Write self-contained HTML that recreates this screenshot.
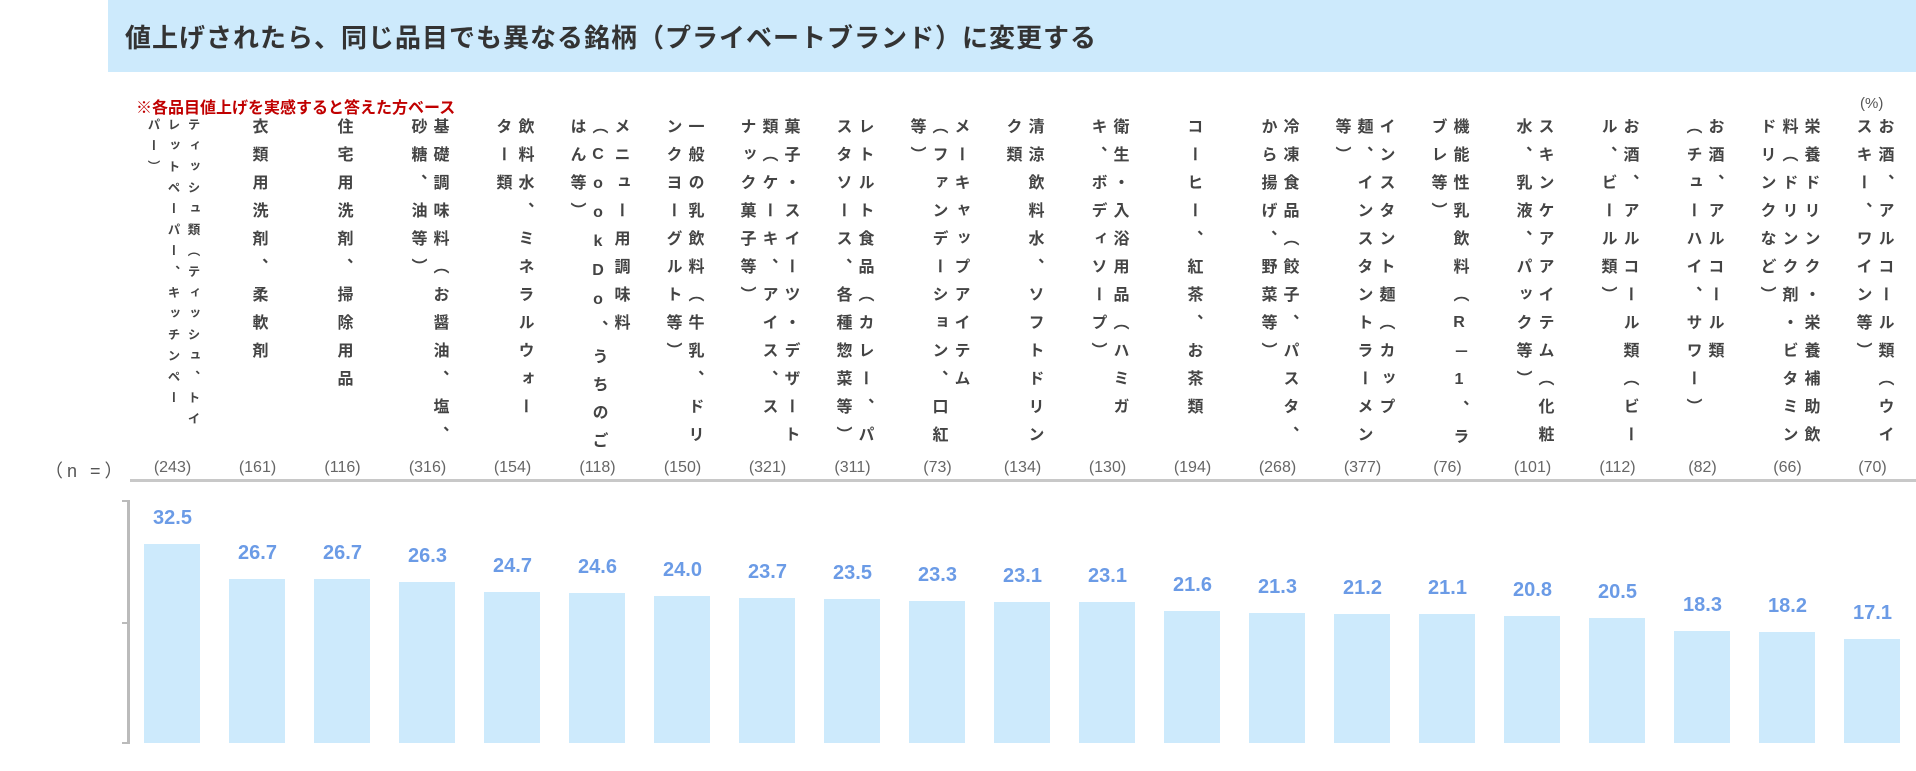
<!DOCTYPE html>
<html><head><meta charset="utf-8"><style>
body{margin:0;width:1916px;height:771px;position:relative;background:#fff;font-family:"Liberation Sans","Noto Sans CJK JP",sans-serif;overflow:hidden}
.hd{position:absolute;left:108px;top:0;width:1808px;height:72px;background:#cdeafc}
.ttl{position:absolute;left:125px;top:18px;font-size:26px;font-weight:bold;color:#333;letter-spacing:1px}
.note{position:absolute;left:136px;top:94px;font-size:16px;font-weight:bold;color:#c00000}
.pct{position:absolute;left:1860px;top:95px;font-size:15px;color:#555}
.lab{position:absolute;top:118px;width:85px;height:345px;display:flex;justify-content:center}
.lab div{writing-mode:vertical-rl;text-orientation:upright;font-size:16px;font-weight:bold;color:#444;letter-spacing:12px;line-height:22px;white-space:nowrap}
.lab div.s{font-size:12.5px;letter-spacing:8.5px;line-height:20px}
.n{position:absolute;top:459px;width:85px;text-align:center;font-size:16px;color:#666}
.b{position:absolute;width:56px;bottom:28px;background:#cdeafc}
.v{position:absolute;width:85px;text-align:center;font-size:20px;font-weight:bold;color:#6b9be6;line-height:20px}
</style></head><body>
<div class="hd"></div>
<div class="ttl">値上げされたら、同じ品目でも異なる銘柄（プライベートブランド）に変更する</div>
<div class="note">※各品目値上げを実感すると答えた方ベース</div>
<div class="pct">(%)</div>

<div class="lab" style="left:130px"><div class="s">ティッシュ類（ティッシュ、トイ<br>レットペーパー、キッチンペー<br>パー）</div></div>
<div class="lab" style="left:215px"><div>衣類用洗剤、柔軟剤</div></div>
<div class="lab" style="left:300px"><div>住宅用洗剤、掃除用品</div></div>
<div class="lab" style="left:385px"><div>基礎調味料（お醤油、塩、<br>砂糖、油等）</div></div>
<div class="lab" style="left:470px"><div>飲料水、ミネラルウォー<br>ター類</div></div>
<div class="lab" style="left:555px"><div>メニュー用調味料<br>（CookDo、うちのご<br>はん等）</div></div>
<div class="lab" style="left:640px"><div>一般の乳飲料（牛乳、ドリ<br>ンクヨーグルト等）</div></div>
<div class="lab" style="left:725px"><div>菓子・スイーツ・デザート<br>類（ケーキ、アイス、ス<br>ナック菓子等）</div></div>
<div class="lab" style="left:810px"><div>レトルト食品（カレー、パ<br>スタソース、各種惣菜等）</div></div>
<div class="lab" style="left:895px"><div>メーキャップアイテム<br>（ファンデーション、口紅<br>等）</div></div>
<div class="lab" style="left:980px"><div>清涼飲料水、ソフトドリン<br>ク類</div></div>
<div class="lab" style="left:1065px"><div>衛生・入浴用品（ハミガ<br>キ、ボディソープ）</div></div>
<div class="lab" style="left:1150px"><div>コーヒー、紅茶、お茶類</div></div>
<div class="lab" style="left:1235px"><div>冷凍食品（餃子、パスタ、<br>から揚げ、野菜等）</div></div>
<div class="lab" style="left:1320px"><div>インスタント麺（カップ<br>麺、インスタントラーメン<br>等）</div></div>
<div class="lab" style="left:1405px"><div>機能性乳飲料（R－1、ラ<br>ブレ等）</div></div>
<div class="lab" style="left:1490px"><div>スキンケアアイテム（化粧<br>水、乳液、パック等）</div></div>
<div class="lab" style="left:1575px"><div>お酒、アルコール類（ビー<br>ル、ビール類）</div></div>
<div class="lab" style="left:1660px"><div>お酒、アルコール類<br>（チューハイ、サワー）</div></div>
<div class="lab" style="left:1745px"><div>栄養ドリンク・栄養補助飲<br>料（ドリンク剤・ビタミン<br>ドリンクなど）</div></div>
<div class="lab" style="left:1830px"><div>お酒、アルコール類（ウイ<br>スキー、ワイン等）</div></div>

<div style="position:absolute;left:45px;top:457px;font-size:18px;color:#555;letter-spacing:4px">（n =）</div>
<div class="n" style="left:130px">(243)</div><div class="n" style="left:215px">(161)</div><div class="n" style="left:300px">(116)</div><div class="n" style="left:385px">(316)</div><div class="n" style="left:470px">(154)</div><div class="n" style="left:555px">(118)</div><div class="n" style="left:640px">(150)</div><div class="n" style="left:725px">(321)</div><div class="n" style="left:810px">(311)</div><div class="n" style="left:895px">(73)</div><div class="n" style="left:980px">(134)</div><div class="n" style="left:1065px">(130)</div><div class="n" style="left:1150px">(194)</div><div class="n" style="left:1235px">(268)</div><div class="n" style="left:1320px">(377)</div><div class="n" style="left:1405px">(76)</div><div class="n" style="left:1490px">(101)</div><div class="n" style="left:1575px">(112)</div><div class="n" style="left:1660px">(82)</div><div class="n" style="left:1745px">(66)</div><div class="n" style="left:1830px">(70)</div>
<div style="position:absolute;left:130px;top:479px;width:1786px;height:3px;background:#c8c8c8"></div>

<div style="position:absolute;left:127px;top:500px;width:3px;height:244px;background:#bbb"></div>
<div style="position:absolute;left:122px;top:500px;width:8px;height:2px;background:#bbb"></div>
<div style="position:absolute;left:122px;top:622px;width:8px;height:2px;background:#bbb"></div>
<div style="position:absolute;left:122px;top:742px;width:8px;height:2px;background:#bbb"></div>

<div class="b" style="left:144px;height:199px"></div><div class="v" style="left:130px;bottom:243px">32.5</div>
<div class="b" style="left:229px;height:164px"></div><div class="v" style="left:215px;bottom:208px">26.7</div>
<div class="b" style="left:314px;height:164px"></div><div class="v" style="left:300px;bottom:208px">26.7</div>
<div class="b" style="left:399px;height:161px"></div><div class="v" style="left:385px;bottom:205px">26.3</div>
<div class="b" style="left:484px;height:151px"></div><div class="v" style="left:470px;bottom:195px">24.7</div>
<div class="b" style="left:569px;height:150px"></div><div class="v" style="left:555px;bottom:194px">24.6</div>
<div class="b" style="left:654px;height:147px"></div><div class="v" style="left:640px;bottom:191px">24.0</div>
<div class="b" style="left:739px;height:145px"></div><div class="v" style="left:725px;bottom:189px">23.7</div>
<div class="b" style="left:824px;height:144px"></div><div class="v" style="left:810px;bottom:188px">23.5</div>
<div class="b" style="left:909px;height:142px"></div><div class="v" style="left:895px;bottom:186px">23.3</div>
<div class="b" style="left:994px;height:141px"></div><div class="v" style="left:980px;bottom:185px">23.1</div>
<div class="b" style="left:1079px;height:141px"></div><div class="v" style="left:1065px;bottom:185px">23.1</div>
<div class="b" style="left:1164px;height:132px"></div><div class="v" style="left:1150px;bottom:176px">21.6</div>
<div class="b" style="left:1249px;height:130px"></div><div class="v" style="left:1235px;bottom:174px">21.3</div>
<div class="b" style="left:1334px;height:129px"></div><div class="v" style="left:1320px;bottom:173px">21.2</div>
<div class="b" style="left:1419px;height:129px"></div><div class="v" style="left:1405px;bottom:173px">21.1</div>
<div class="b" style="left:1504px;height:127px"></div><div class="v" style="left:1490px;bottom:171px">20.8</div>
<div class="b" style="left:1589px;height:125px"></div><div class="v" style="left:1575px;bottom:169px">20.5</div>
<div class="b" style="left:1674px;height:112px"></div><div class="v" style="left:1660px;bottom:156px">18.3</div>
<div class="b" style="left:1759px;height:111px"></div><div class="v" style="left:1745px;bottom:155px">18.2</div>
<div class="b" style="left:1844px;height:104px"></div><div class="v" style="left:1830px;bottom:148px">17.1</div>
</body></html>
